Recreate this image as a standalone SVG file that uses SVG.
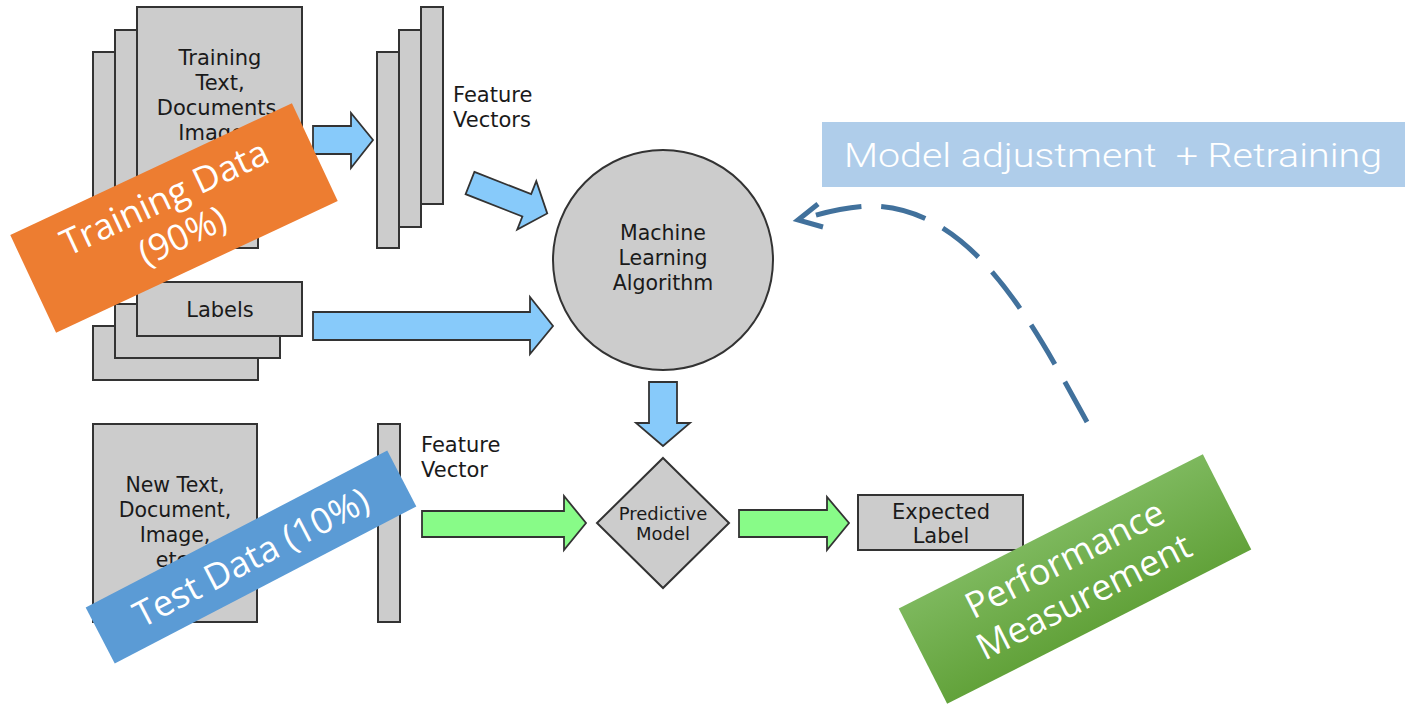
<svg xmlns="http://www.w3.org/2000/svg" width="1405" height="709" viewBox="0 0 1405 709">
<defs>
<style>
.box{fill:#cccccc;stroke:#333333;stroke-width:2}
.ba{fill:#87cafa;stroke:#333333;stroke-width:1.8;stroke-linejoin:miter}
.ga{fill:#88fb88;stroke:#333333;stroke-width:1.8;stroke-linejoin:miter}
.t{font-family:"DejaVu Sans",sans-serif;fill:#1a1a1a;text-anchor:middle}
.tl{font-family:"DejaVu Sans",sans-serif;fill:#1a1a1a}
.bn{font-family:"Open Sans","Liberation Sans",sans-serif;fill:#ffffff;text-anchor:middle;font-size:36px}
</style>
<linearGradient id="gg" x1="0" y1="0" x2="0" y2="1">
<stop offset="0" stop-color="#7db85d"/>
<stop offset="1" stop-color="#62a23a"/>
</linearGradient>
</defs>
<rect width="1405" height="709" fill="#ffffff"/>

<g id="training-docs">
<rect class="box" x="93" y="52" width="165" height="196"/>
<rect class="box" x="115" y="30" width="165" height="196"/>
<rect class="box" x="137" y="7" width="165" height="197"/>
<text class="t" font-size="21"><tspan x="220" y="65">Training</tspan><tspan x="220" y="90">Text,</tspan><tspan x="220" y="115">Documents,</tspan><tspan x="220" y="140">Images,</tspan></text>
</g>

<g id="labels">
<rect class="box" x="93" y="326" width="165" height="54"/>
<rect class="box" x="115" y="304" width="165" height="54"/>
<rect class="box" x="137" y="282" width="165" height="54"/>
<text class="t" font-size="21" x="220" y="317">Labels</text>
</g>

<g id="feature-vectors">
<rect class="box" x="377" y="52" width="22" height="196"/>
<rect class="box" x="399" y="30" width="22" height="197"/>
<rect class="box" x="421" y="7" width="22" height="197"/>
<text class="tl" font-size="21"><tspan x="453" y="102">Feature</tspan><tspan x="453" y="127">Vectors</tspan></text>
</g>

<g id="ml-algorithm">
<circle class="box" cx="663" cy="260" r="110"/>
<text class="t" font-size="20.5"><tspan x="663" y="240">Machine</tspan><tspan x="663" y="265">Learning</tspan><tspan x="663" y="290">Algorithm</tspan></text>
</g>

<g id="new-data">
<rect class="box" x="93" y="424" width="164" height="198"/>
<text class="t" font-size="20.5"><tspan x="175" y="492">New Text,</tspan><tspan x="175" y="517">Document,</tspan><tspan x="175" y="542">Image,</tspan><tspan x="175" y="567">etc.</tspan></text>
</g>

<g id="feature-vector">
<rect class="box" x="378" y="424" width="22" height="198"/>
<text class="tl" font-size="21"><tspan x="421" y="452">Feature</tspan><tspan x="421" y="477">Vector</tspan></text>
</g>

<g id="predictive-model">
<polygon class="box" points="663,458 729,523 663,588 597,523"/>
<text class="t" font-size="18"><tspan x="663" y="520">Predictive</tspan><tspan x="663" y="540">Model</tspan></text>
</g>

<g id="expected-label">
<rect class="box" x="858" y="495" width="165" height="55"/>
<text class="t" font-size="21"><tspan x="941" y="519">Expected</tspan><tspan x="941" y="543">Label</tspan></text>
</g>

<g id="connectors">
<polygon class="ba" points="313,126 351,126 351,113 373,140 351,168 351,154 313,154"/>
<polygon class="ba" transform="translate(470,183) rotate(21.5)" points="0,-12 61,-12 61,-26 83,0 61,26 61,12 0,12"/>
<polygon class="ba" points="313,312 530,312 530,297 553,326 530,354 530,340 313,340"/>
<polygon class="ba" points="649,382 677,382 677,423 690,423 663,446 636,423 649,423"/>
<polygon class="ga" points="422,511 564,511 564,496 586,523 564,550 564,537 422,537"/>
<polygon class="ga" points="739,510 827,510 827,497 849,523 827,550 827,537 739,537"/>
<path d="M1087,422 C1029,316 971,208 871,206 C850,206 820,213 800,220" fill="none" stroke="#41719c" stroke-width="5" stroke-dasharray="46 20"/>
<path d="M818,204 L798,220 L823,227" fill="none" stroke="#41719c" stroke-width="5" stroke-linejoin="miter"/>
</g>

<g id="training-data-banner" transform="translate(174,218) rotate(-25.1)">
<rect x="-155.5" y="-54" width="311" height="108" fill="#ed7d31"/>
<text class="bn"><tspan x="0" y="-10">Training Data</tspan><tspan x="0" y="32">(90%)</tspan></text>
</g>

<g id="test-data-banner" transform="translate(251,557) rotate(-27.5)">
<rect x="-170" y="-31.5" width="340" height="63" fill="#5b9bd5"/>
<text class="bn" x="0" y="13">Test Data (10%)</text>
</g>

<g id="performance-banner" transform="translate(1075,579) rotate(-26.9)">
<rect x="-170.5" y="-53.5" width="341" height="107" fill="url(#gg)"/>
<text class="bn"><tspan x="0" y="-10">Performance</tspan><tspan x="0" y="32">Measurement</tspan></text>
</g>

<g id="model-adjustment">
<rect x="822" y="122" width="583" height="65" fill="#afcdea"/>
<text x="844" y="167" font-family="Roboto,'Open Sans',sans-serif" font-weight="300" font-size="34" fill="#ffffff" style="white-space:pre" textLength="538" lengthAdjust="spacingAndGlyphs">Model adjustment  + Retraining</text>
</g>
</svg>
